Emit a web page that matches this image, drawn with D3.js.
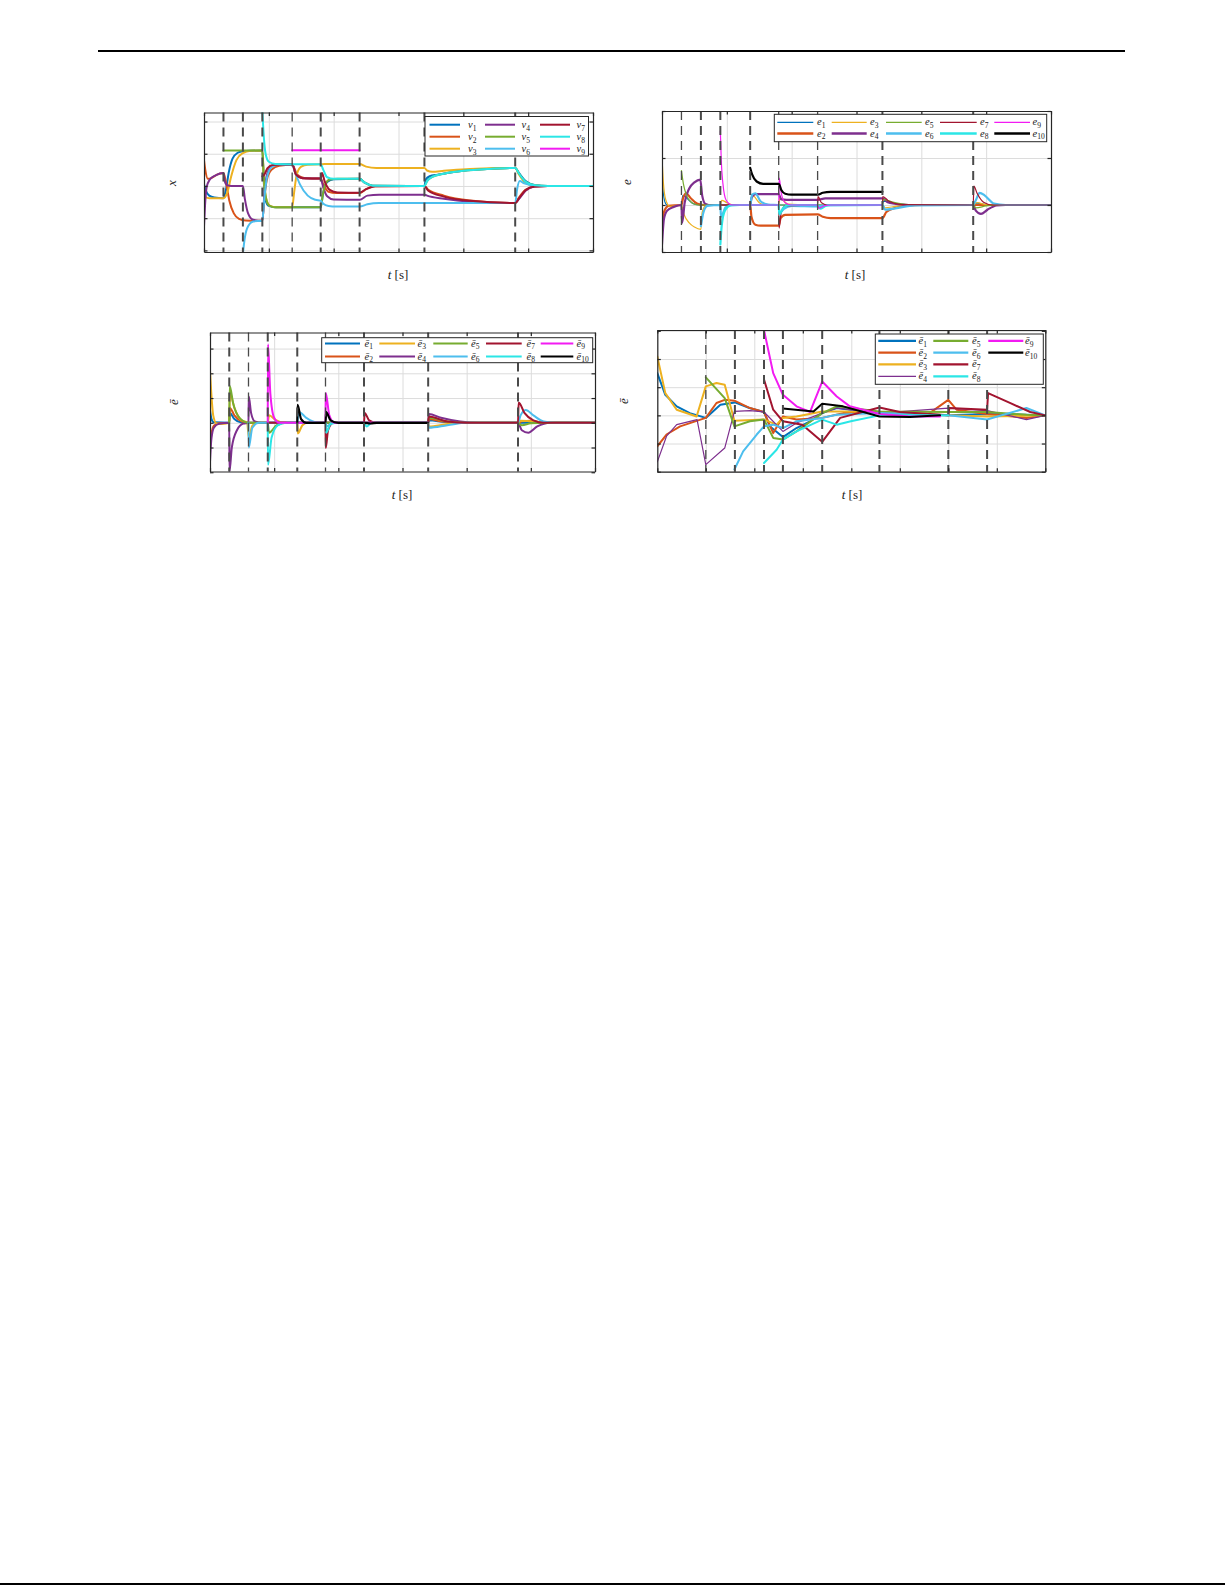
<!DOCTYPE html>
<html><head><meta charset="utf-8">
<script src="https://cdn.jsdelivr.net/npm/d3@7"></script>
<style>body{margin:0;background:#fff}svg{display:block}</style>
</head><body>
<script>
// ---------------- DATA ----------------
// switching instants (vertical dashed lines) and their kind
const switchA = [1.5, 3, 4.5, 6.8, 9, 12, 17, 24];
const kindA   = ["h","h","h","l","h","h","h","h"];
const switchB = [1.5, 3, 4.5, 6.8, 9, 12, 17, 24];
const kindB   = ["l","h","h","h","l","l","h","h"];
const switchC = [1.5, 3, 4.5, 6.8, 9, 12, 17, 24];
const kindC   = ["h","l","h","h","l","h","h","h"];
const switchD = [1.0, 1.6, 2.2, 2.59, 3.4, 4.58, 6.0, 6.8];
const kindD   = ["l","h","h","h","h","h","h","h"];

const xTicksABC = [0, 5, 10, 15, 20, 25, 30];
const xTicksD = [0, 1, 2, 3, 4, 5, 6, 7, 8];
const yTicksA = [-2, -1, 0, 1, 2];
const yTicksB = [-1, 0, 1, 2];
const yTicksC = [-2, -1, 0, 1, 2, 3];
const yTicksD = [-2, -1, 0, 1, 2, 3];

const labelsA = ["ν1","ν2","ν3","ν4","ν5","ν6","ν7","ν8","ν9"];
const labelsB = ["e1","e2","e3","e4","e5","e6","e7","e8","e9","e10"];
const labelsC = ["ē1","ē2","ē3","ē4","ē5","ē6","ē7","ē8","ē9","ē10"];
const labelsD = ["ē1","ē2","ē3","ē4","ē5","ē6","ē7","ē8","ē9","ē10"];

// ---- panel A : x (nu) ----
const nu1 = [[0,0.05],[0.15,-0.15],[0.4,-0.3],[0.8,-0.36],[1.5,-0.38],[1.7,-0.1],[1.9,0.4],[2.2,0.85],[2.6,1.03],[3,1.08],[4.5,1.1],[4.6,0.2],[4.75,-0.45],[5,-0.62],[5.5,-0.66],[9,-0.66],[9.2,-0.2],[9.5,0.12],[10,0.21],[12,0.22],[12.4,0.1],[13,0.01],[17,0],[17.1,0.2],[17.4,0.3],[18,0.35],[19.5,0.45],[21.5,0.52],[24,0.56],[24.3,0.4],[24.8,0.15],[25.5,0.03],[26.5,0],[30,0]];
const nu2 = [[0,0.8],[0.1,0.5],[0.3,0.22],[0.6,0.25],[1,0.35],[1.5,0.4],[1.7,0.1],[1.95,-0.45],[2.3,-0.85],[2.7,-1.02],[3.2,-1.07],[4.5,-1.08],[4.65,-0.4],[4.85,0.2],[5.2,0.5],[5.8,0.63],[6.8,0.66],[7.2,0.35],[7.8,0.24],[9,0.23],[9.2,0.05],[9.6,-0.18],[10.2,-0.22],[12,-0.22],[12.5,-0.1],[13.2,-0.01],[17,0],[17.3,-0.12],[18.5,-0.3],[20.5,-0.45],[24,-0.53],[24.3,-0.35],[24.8,-0.12],[25.5,-0.02],[26.5,0],[30,0]];
const nu3 = [[0,-0.2],[0.12,-0.35],[0.4,-0.38],[1.5,-0.38],[1.8,-0.2],[2.1,0.3],[2.5,0.8],[3,1.02],[3.6,1.09],[4.5,1.1],[4.6,0.3],[4.8,-0.4],[5.1,-0.62],[5.6,-0.66],[6.8,-0.66],[6.95,-0.2],[7.15,0.35],[7.5,0.6],[8,0.66],[9,0.67],[9.3,0.68],[12,0.68],[12.5,0.6],[13.3,0.56],[17,0.56],[17.2,0.48],[17.6,0.44],[18.5,0.47],[20.5,0.53],[24,0.56],[24.3,0.35],[24.8,0.1],[25.5,0.01],[26.5,0],[30,0]];
const nu4 = [[0,-1.26],[0.08,-0.6],[0.2,-0.05],[0.45,0.2],[0.9,0.33],[1.5,0.4],[1.6,0.15],[1.8,0.02],[2.1,0],[3,0],[3.15,-0.4],[3.4,-0.85],[3.8,-1.05],[4.5,-1.08],[4.65,-0.3],[4.85,0.35],[5.2,0.6],[5.7,0.66],[6.8,0.67],[7.1,0.35],[7.6,0.24],[9,0.23],[9.2,-0.05],[9.5,-0.32],[10,-0.42],[12,-0.43],[12.6,-0.3],[13.5,-0.27],[17,-0.27],[17.2,-0.3],[18.5,-0.4],[20.5,-0.49],[24,-0.53],[24.3,-0.4],[24.8,-0.15],[25.5,-0.02],[26.5,0],[30,0]];
const nu5 = [[1.5,1.1],[4.5,1.1],[4.6,0.4],[4.75,-0.3],[5,-0.6],[5.4,-0.66],[9,-0.66],[9.15,-0.3],[9.35,0.05],[9.7,0.2],[10.3,0.22],[12,0.22],[12.4,0.1],[13,0.01],[17,0],[17.2,0.15],[17.6,0.28],[18.5,0.38],[20,0.47],[22,0.53],[24,0.56],[24.3,0.38],[24.8,0.13],[25.5,0.02],[26.5,0],[30,0]];
const nu6 = [[3,-2.1],[3.15,-1.6],[3.4,-1.25],[3.8,-1.1],[4.5,-1.08],[4.65,-0.4],[4.85,0.25],[5.2,0.58],[5.7,0.66],[6.8,0.67],[7.0,0.45],[7.4,0.05],[8,-0.3],[8.6,-0.43],[9,-0.46],[9.2,-0.55],[9.6,-0.62],[10.2,-0.64],[12,-0.64],[12.6,-0.57],[13.5,-0.53],[24,-0.53],[24.15,-0.1],[24.35,0.15],[24.7,0.08],[25.5,0.01],[26.5,0],[30,0]];
const nu7 = [[4.5,0.3],[4.65,0.35],[4.9,0.55],[5.3,0.65],[6.8,0.67],[7.1,0.35],[7.6,0.24],[9,0.23],[9.1,0.4],[9.3,0.15],[9.7,-0.12],[10.3,-0.2],[12,-0.21],[12.5,-0.1],[13.2,-0.01],[17,0],[17.3,-0.15],[18.5,-0.33],[20.5,-0.46],[24,-0.53],[24.3,-0.38],[24.8,-0.13],[25.5,-0.02],[26.5,0],[30,0]];
const nu8 = [[4.5,2.35],[4.6,1.6],[4.75,1.0],[5,0.75],[5.5,0.68],[9,0.67],[9.2,0.5],[9.5,0.27],[10,0.22],[12,0.22],[12.4,0.1],[13,0.01],[17,0],[17.2,0.15],[17.6,0.28],[18.5,0.38],[20,0.47],[22,0.53],[24,0.56],[24.3,0.38],[24.8,0.13],[25.5,0.02],[26.5,0],[30,0]];
const nu9 = [[6.8,1.11],[12,1.11]];

// ---- panel B : e ----
const e1 = [[0,0.6],[0.1,0.25],[0.3,0.02],[0.6,-0.03],[1.5,0],[1.6,0.2],[1.9,0.15],[2.4,0.03],[3,0],[17,0],[17.05,0.08],[18,0.03],[19.5,0],[24,0],[24.3,0.04],[25,0.01],[30,0]];
const e2 = [[0,-0.5],[0.15,-0.15],[0.5,-0.02],[1.5,0],[1.6,0.12],[1.85,0.25],[2.2,0.15],[2.7,0.03],[3.2,0],[6.8,0],[6.9,-0.25],[7.2,-0.42],[7.6,-0.44],[9,-0.44],[9.15,-0.28],[9.5,-0.21],[12,-0.2],[12.4,-0.25],[13,-0.28],[17,-0.28],[17.3,-0.15],[18,-0.06],[19,-0.01],[20,0],[30,0]];
const e3 = [[0,1.04],[0.1,0.5],[0.3,0.1],[0.6,-0.03],[1.5,0],[1.7,-0.2],[2.1,-0.38],[2.5,-0.47],[3,-0.52],[3.1,-0.15],[3.4,-0.01],[4.5,0],[4.6,0.1],[5,0.05],[5.5,0],[6.8,0],[7,0.2],[7.5,0.05],[8,0],[9,0],[9.1,0.15],[9.7,0.02],[12,0],[17,0],[17.2,-0.06],[18,-0.03],[19,0],[24,0],[24.3,0.05],[25,0.01],[30,0]];
const e4 = [[0,-0.84],[0.15,-0.3],[0.4,-0.12],[0.9,-0.04],[1.5,0],[1.55,-0.38],[1.75,0.05],[2.1,0.35],[2.5,0.48],[2.95,0.54],[3.1,0.2],[3.35,0.02],[3.6,0],[6.8,0],[6.9,0.15],[7.2,0.23],[9,0.23],[9.2,0.12],[9.6,0.11],[12,0.11],[12.6,0.14],[17,0.14],[17.4,0.06],[18.5,0.01],[19,0],[24,0],[24.2,-0.12],[24.6,-0.19],[25.1,-0.1],[25.8,-0.01],[26.5,0],[30,0]];
const e5 = [[1.5,0.73],[1.65,0.45],[1.9,0.2],[2.3,0.05],[2.8,0],[17,0],[17.05,0.12],[17.8,0.06],[19,0.01],[24,0],[24.2,-0.06],[25,-0.02],[26,0],[30,0]];
const e6 = [[3,-0.45],[3.2,-0.15],[3.5,-0.02],[4.5,0],[4.55,-0.25],[4.9,-0.05],[5.4,0],[6.8,0],[6.95,0.22],[7.2,0.25],[7.6,0.08],[8.2,0.01],[9,0],[9.05,-0.18],[9.4,-0.08],[10,-0.02],[12,-0.03],[12.5,-0.01],[17,0],[17.2,-0.1],[18,-0.07],[19.5,-0.01],[24,0],[24.2,0.1],[24.5,0.26],[24.9,0.2],[25.6,0.03],[26.5,0],[30,0]];
const e7 = [[4.5,0],[9,0],[9.03,-0.49],[9.2,-0.15],[9.5,-0.02],[12,0],[12.03,0.18],[12.3,0.05],[12.8,0],[17,0],[17.03,0.18],[17.5,0.08],[18.5,0.01],[24,0],[24.05,0.4],[24.3,0.25],[24.8,0.06],[25.5,0],[30,0]];
const e8 = [[4.5,-0.84],[4.6,-0.45],[4.85,-0.12],[5.3,-0.01],[6,0],[9,0],[9.05,-0.2],[9.35,-0.06],[9.8,0],[12,0],[12.2,-0.08],[12.6,-0.02],[13,0],[17,0]];
const e9 = [[4.5,1.57],[4.57,0.95],[4.7,0.45],[4.95,0.1],[5.4,0],[9,0],[9.04,0.57],[9.2,0.25],[9.5,0.05],[10,0],[12,0],[12.1,-0.07],[12.5,-0.02],[13,0],[17,0]];
const e10 = [[6.8,0.79],[6.95,0.65],[7.3,0.5],[7.8,0.45],[9,0.45],[9.2,0.32],[9.5,0.24],[10,0.22],[12,0.22],[12.4,0.26],[13,0.28],[17,0.28]];

// ---- panel C : e-bar ----
const eb1 = [[0,0.5],[0.12,0.15],[0.3,0.02],[1.5,0],[1.55,0.4],[1.9,0.15],[2.4,0.02],[3,0],[17,0],[17.05,0.1],[18.3,0.03],[20,0],[30,0]];
const eb2 = [[0,-1.0],[0.1,-0.5],[0.3,-0.12],[0.7,-0.02],[1.5,0],[1.55,0.6],[1.9,0.3],[2.5,0.05],[3,0],[17,0],[17.05,0.15],[18,0.06],[19.5,0],[24,0],[24.3,0.06],[25,0.08],[26,0.01],[30,0]];
const eb3 = [[0,2.1],[0.1,1.2],[0.25,0.3],[0.5,-0.03],[0.8,-0.05],[1.5,0],[1.55,1.2],[1.9,0.6],[2.4,0.12],[2.9,0],[3.02,-0.6],[3.3,-0.12],[3.7,0],[4.5,0],[4.6,0.3],[5.1,0.12],[5.8,0.01],[6.8,0],[6.85,-0.43],[7.2,-0.1],[7.6,0],[17,0],[17.05,-0.15],[18.5,-0.05],[20,0],[24,0],[24.2,0.08],[25.3,0.05],[26,0],[30,0]];
const eb4 = [[0,-1.58],[0.1,-0.7],[0.3,-0.2],[0.7,-0.04],[1.5,0],[1.52,-1.96],[1.7,-1.0],[2.1,-0.3],[2.6,-0.03],[3,0],[3.02,1.06],[3.2,0.4],[3.5,0.05],[4,0],[17,0],[17.05,0.35],[18,0.2],[19.5,0.05],[21,0],[24,0],[24.3,-0.3],[24.8,-0.4],[25.5,-0.15],[26.5,0],[30,0]];
const eb5 = [[1.5,0],[1.53,1.5],[1.8,0.8],[2.3,0.2],[3,0],[4.5,0],[4.6,-0.4],[5.2,-0.1],[6,0],[17,0],[17.05,0.2],[18.5,0.05],[20,0],[24,0],[24.3,-0.1],[25,-0.02],[26,0],[30,0]];
const eb6 = [[3,0],[3.02,-1.0],[3.3,-0.2],[3.8,0],[6.8,0],[6.9,0.45],[7.5,0.2],[8.3,0.01],[9,0],[9.1,-0.15],[9.5,0],[17,0],[17.05,-0.2],[18.5,-0.1],[20,0],[24,0],[24.2,0.3],[24.6,0.52],[25.2,0.3],[26,0.05],[27,0],[30,0]];
const eb7 = [[4.5,0],[9,0],[9.02,-1.02],[9.2,-0.3],[9.6,0],[12,0],[12.05,0.4],[12.4,0.1],[13,0],[17,0],[17.05,0.25],[18.5,0.05],[20,0],[24,0],[24.05,0.82],[24.5,0.4],[25.2,0.1],[26,0],[30,0]];
const eb8 = [[4.5,0],[4.52,-1.7],[4.8,-0.6],[5.3,-0.1],[6,0],[9,0],[9.05,-0.4],[9.4,-0.05],[10,0],[12,0],[12.2,-0.15],[12.6,0],[17,0]];
const eb9 = [[4.5,0],[4.52,3.18],[4.7,1.2],[5,0.2],[5.4,0],[9,0],[9.02,1.2],[9.3,0.3],[9.7,0],[12,0],[17,0]];
const eb10 = [[6.8,0],[6.82,0.72],[7.1,0.15],[7.5,0],[9,0],[9.05,0.43],[9.4,0.1],[10,0],[12,0],[12.5,-0.03],[13,0],[17,0]];

// ---- panel D : e-bar (sampled) ----
const ed1 = [[0,1.5],[0.165,0.73],[0.4,0.32],[0.67,0.08],[1,-0.09],[1.3,0.38],[1.6,0.46],[1.9,0.26],[2.2,0.12],[2.32,-0.39],[2.59,-0.77],[2.87,-0.45],[3.15,-0.21],[3.4,0.08],[3.7,0.26],[3.98,0.2],[4.58,0.08],[5,0.02],[6,0],[6.8,0.05],[7.6,0.02],[8,0]];
const ed2 = [[0,-1.1],[0.19,-0.68],[0.47,-0.39],[1,-0.09],[1.22,0.44],[1.39,0.55],[1.59,0.52],[1.91,0.26],[2.2,0.12],[2.39,-0.63],[2.59,-0.04],[2.87,-0.15],[3.4,-0.09],[3.83,0.08],[4.58,0.12],[5.55,0],[6,0.55],[6.17,0.2],[6.8,0.05],[7.61,-0.09],[8,0]];
const ed3 = [[0,2.09],[0.165,0.79],[0.4,0.2],[0.81,-0.04],[1,1.03],[1.22,1.15],[1.39,1.09],[1.59,-0.19],[2.2,-0.15],[2.46,-0.33],[2.59,-0.09],[2.87,-0.04],[3.4,0.14],[3.83,0.14],[4.58,0.12],[6,0],[6.8,-0.04],[8,0]];
const ed4 = [[0,-1.65],[0.19,-0.74],[0.4,-0.33],[0.82,-0.15],[1,-1.75],[1.39,-1.16],[1.59,0.14],[1.91,0.17],[2.2,0.12],[2.59,-0.57],[2.87,-0.27],[3.4,0.08],[3.7,0.26],[4.58,0.08],[6,0.26],[6.8,0.17],[7.61,-0.15],[8,0]];
const ed5 = [[1,1.35],[1.39,0.61],[1.59,-0.39],[1.91,-0.21],[2.2,-0.15],[2.39,-0.8],[2.59,-0.86],[2.87,-0.57],[3.4,0.08],[3.7,0.32],[4.58,0.14],[6,0.12],[6.8,0.12],[7.61,0.02],[8,0]];
const ed6 = [[1.59,-1.92],[1.77,-1.28],[2.05,-0.68],[2.2,-0.39],[2.39,-0.33],[2.59,-0.45],[2.87,-0.21],[3.4,-0.09],[3.7,0.02],[4.58,0.08],[6,0],[6.8,-0.15],[7.61,0.26],[8,0]];
const ed7 = [[2.2,1.27],[2.39,0.2],[2.59,-0.21],[2.99,-0.33],[3.4,-0.94],[3.77,-0.09],[4.58,0.28],[5,0.12],[6,0],[6.02,0.26],[6.8,0.2],[6.82,0.79],[7.27,0.44],[7.69,0.12],[8,0]];
const ed8 = [[2.2,-1.69],[2.46,-1.22],[2.59,-0.86],[2.87,-0.57],[3.4,-0.15],[3.7,-0.33],[3.99,-0.21],[4.58,0],[6,0]];
const ed9 = [[2.2,3.03],[2.39,1.5],[2.59,0.73],[2.87,0.32],[3.15,0.12],[3.4,1.2],[3.7,0.67],[3.97,0.32],[4.58,0.05],[5.21,-0.04],[5.83,-0.04]];
const ed10 = [[2.59,0.24],[3.22,0.14],[3.4,0.41],[3.83,0.32],[4.58,-0.04],[5.21,-0.06],[5.83,0]];

// ---------------- STYLE / LAYOUT ----------------
const colors = ["#0072BD","#D95319","#EDB120","#7E2F8E","#77AC30","#4DBEEE","#A2142F","#2BE6E6","#F21BF2","#000000"];
const serif = "'Liberation Serif','DejaVu Serif',serif";

const svg = d3.select("body").append("svg").attr("width",1225).attr("height",1585);
svg.append("rect").attr("width",1225).attr("height",1585).attr("fill","#fff");
svg.append("line").attr("x1",98).attr("x2",1125).attr("y1",51).attr("y2",51).attr("stroke","#000").attr("stroke-width",2);
svg.append("line").attr("x1",0).attr("x2",1225).attr("y1",1584).attr("y2",1584).attr("stroke","#000").attr("stroke-width",2);

const panels = [
  {id:"A", left:204, top:112.5, width:389, height:139.5, xDomain:[0,30], yDomain:[-2.05,2.28],
   xTicks:xTicksABC, yTicks:yTicksA, sw:switchA, kind:switchA.map((d,i)=>kindA[i]),
   series:[nu1,nu2,nu3,nu4,nu5,nu6,nu7,nu8,nu9], labels:labelsA, widths:[2,2,2,2,2,2,2,2,2],
   curve:d3.curveMonotoneX, ylab:"x", ylabPos:[176,183], xlabPos:[398,279],
   legend:{box:[425,116.5,588.5,156], rows:[124.7,136.7,148.7], lines:[[429.5,460],[485,515],[540,570]], labx:[468,521.5,576.5], nrows:3, lw:[2,2,2,2,2,2,2,2,2]}},
  {id:"B", left:662, top:111, width:389, height:141, xDomain:[0,30], yDomain:[-1,2],
   xTicks:xTicksABC, yTicks:yTicksB, sw:switchB, kind:kindB,
   series:[e1,e2,e3,e4,e5,e6,e7,e8,e9,e10], labels:labelsB, widths:[1.2,2.2,1.2,2.2,1.2,2.2,1.2,2.2,1.2,2.2],
   curve:d3.curveMonotoneX, ylab:"e", ylabPos:[631,182], xlabPos:[855,279],
   legend:{box:[774.3,114.3,1046.7,141.7], rows:[122.3,133.5], lines:[[777.3,813.3],[831.7,866.7],[886,921.7],[940,976.7],[994.3,1030]], labx:[817,870,925,980,1032.5], nrows:2, lw:[1.2,2.5,1.2,2.5,1.2,2.5,1.2,2.5,1.2,2.5]}},
  {id:"C", left:210, top:332.5, width:385, height:139, xDomain:[0,30], yDomain:[-1.97,3.65],
   xTicks:xTicksABC, yTicks:yTicksC, sw:switchC, kind:kindC,
   series:[eb1,eb2,eb3,eb4,eb5,eb6,eb7,eb8,eb9,eb10], labels:labelsC, widths:[2,2,2,2,2,2,2,2,2,2.2],
   curve:d3.curveMonotoneX, ylab:"ē", ylabPos:[178,402], xlabPos:[402,499],
   legend:{box:[321.7,337.7,592.7,362.7], rows:[343.5,356.5], lines:[[325,360],[379.3,415],[433.3,467.7],[486,521.7],[540.7,573.3]], labx:[364.5,417.5,471,526.5,576.5], nrows:2, lw:[2.2,2.2,2.2,2.2,2.2,2.2,2.2,2.2,2.2,2.2]}},
  {id:"D", left:657.3, top:330, width:388, height:141.7, xDomain:[0,8], yDomain:[-2,3.03],
   xTicks:xTicksD, yTicks:yTicksD, sw:switchD, kind:kindD,
   series:[ed1,ed2,ed3,ed4,ed5,ed6,ed7,ed8,ed9,ed10], labels:labelsD, widths:[2,2,2,1.2,2,2,2,2,2,2],
   curve:d3.curveLinear, ylab:"ē", ylabPos:[628,401], xlabPos:[852,499],
   legend:{box:[875.3,334,1043.3,384.3], rows:[340.8,352.7,364.4,376.3], lines:[[878.3,916],[933.3,968.3],[988.3,1023.3]], labx:[918.5,972,1025], nrows:4, lw:[2.2,2.2,2.2,1.2,2.2,2.2,2.2,2.2,2.2,2.2]}}
];

function mathText(sel, label, size) {
  const m = label.match(/^(\D+)(\d*)$/);
  sel.append("tspan").attr("font-style","italic").attr("font-size",size).text(m[1]);
  if (m[2]) sel.append("tspan").attr("font-size",size*0.72).attr("dy",size*0.28).text(m[2]);
}

panels.forEach(p => {
  const g = svg.append("g");
  const x = d3.scaleLinear().domain(p.xDomain).range([p.left, p.left + p.width]);
  const y = d3.scaleLinear().domain(p.yDomain).range([p.top + p.height, p.top]);

  // grid
  const gx = g.append("g").attr("transform",`translate(0,${p.top+p.height})`)
    .call(d3.axisBottom(x).tickValues(p.xTicks).tickSize(-p.height).tickFormat(""));
  const gy = g.append("g").attr("transform",`translate(${p.left},0)`)
    .call(d3.axisLeft(y).tickValues(p.yTicks.filter(v=>v>=p.yDomain[0]&&v<=p.yDomain[1])).tickSize(-p.width).tickFormat(""));
  [gx,gy].forEach(a=>{a.select(".domain").remove(); a.selectAll("line").attr("stroke","#dcdcdc").attr("stroke-width",1);});

  // clip
  const cid = "clip"+p.id;
  svg.append("clipPath").attr("id",cid).append("rect")
    .attr("x",p.left).attr("y",p.top).attr("width",p.width).attr("height",p.height);

  // series
  const line = d3.line().x(d=>x(d[0])).y(d=>y(d[1])).curve(p.curve);
  const lg = g.append("g").attr("clip-path",`url(#${cid})`);
  p.series.forEach((s,i)=>{
    lg.append("path").attr("d",line(s)).attr("fill","none")
      .attr("stroke",colors[i]).attr("stroke-width",p.widths[i])
      .attr("stroke-linejoin","round").attr("stroke-linecap","round");
  });

  // switching dashed lines
  g.append("g").selectAll("line").data(p.sw).join("line")
    .attr("x1",d=>x(d)).attr("x2",d=>x(d)).attr("y1",p.top).attr("y2",p.top+p.height)
    .attr("stroke","#4a4a4a").attr("stroke-dasharray","9,6")
    .attr("stroke-width",(d,i)=>p.kind[i]==="h"?2:1.3);

  // box axes with inside ticks
  const tk = 3.5;
  const ax = [
    g.append("g").attr("transform",`translate(0,${p.top+p.height})`).call(d3.axisBottom(x).tickValues(p.xTicks).tickSize(-tk).tickSizeOuter(0).tickFormat("")),
    g.append("g").attr("transform",`translate(0,${p.top})`).call(d3.axisTop(x).tickValues(p.xTicks).tickSize(-tk).tickSizeOuter(0).tickFormat("")),
    g.append("g").attr("transform",`translate(${p.left},0)`).call(d3.axisLeft(y).tickValues(p.yTicks).tickSize(-tk).tickSizeOuter(0).tickFormat("")),
    g.append("g").attr("transform",`translate(${p.left+p.width},0)`).call(d3.axisRight(y).tickValues(p.yTicks).tickSize(-tk).tickSizeOuter(0).tickFormat(""))
  ];
  ax.forEach(a=>{a.selectAll("path,line").attr("stroke","#262626").attr("stroke-width",1.2);});

  // axis labels
  const yl = g.append("text").attr("font-family",serif).attr("fill","#222")
    .attr("text-anchor","middle")
    .attr("transform",`translate(${p.ylabPos[0]},${p.ylabPos[1]}) rotate(-90)`);
  yl.append("tspan").attr("font-style","italic").attr("font-size",13).text(p.ylab);
  const xl = g.append("text").attr("font-family",serif).attr("fill","#222")
    .attr("text-anchor","middle").attr("x",p.xlabPos[0]).attr("y",p.xlabPos[1]).attr("font-size",13);
  xl.append("tspan").attr("font-style","italic").text("t");
  xl.append("tspan").text(" [s]");

  // legend
  const L = p.legend;
  g.append("rect").attr("x",L.box[0]).attr("y",L.box[1]).attr("width",L.box[2]-L.box[0]).attr("height",L.box[3]-L.box[1])
    .attr("fill","#fff").attr("stroke","#262626").attr("stroke-width",1);
  p.labels.forEach((lab,i)=>{
    const c = Math.floor(i/L.nrows), r = i % L.nrows;
    const ly = L.rows[r];
    g.append("line").attr("x1",L.lines[c][0]).attr("x2",L.lines[c][1]).attr("y1",ly).attr("y2",ly)
      .attr("stroke",colors[i]).attr("stroke-width",L.lw[i]);
    const t = g.append("text").attr("font-family",serif).attr("fill","#222")
      .attr("x",L.labx[c]).attr("y",ly+3);
    mathText(t, lab, 10.5);
  });
});
</script>
</body></html>
